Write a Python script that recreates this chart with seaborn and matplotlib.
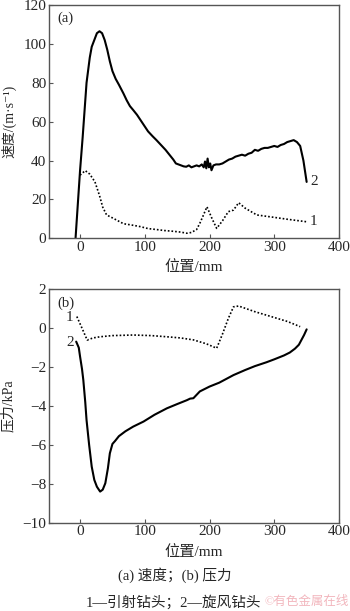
import matplotlib
matplotlib.use("Agg")
import matplotlib.pyplot as plt
import seaborn as sns
import pandas as pd

# ---- data: velocity (a) ----
vel_x1 = [0, 8, 15, 23, 30, 35, 41, 50, 67, 80, 93, 105, 118, 130, 144, 155, 165, 172, 180, 185, 190, 196, 204, 211, 220, 229, 237, 245, 255, 273, 299, 320, 350]
vel_y1 = [32.5, 34.8, 33.0, 29.0, 22.0, 16.0, 12.0, 10.5, 7.5, 6.8, 6.0, 5.0, 4.5, 4.0, 3.6, 3.2, 2.6, 3.0, 4.5, 7.7, 11.5, 16.2, 10.0, 5.1, 9.0, 13.7, 14.5, 18.3, 15.5, 12.0, 10.8, 9.8, 8.5]

vel_x2 = [-7, -2, 0, 4, 10, 15, 18, 22, 26, 30, 34, 38, 42, 46, 50, 55, 60, 67, 72, 77, 82, 88, 93, 98, 105, 112, 118, 125, 132, 138, 144, 148, 152, 156, 160, 164, 168, 172, 176, 180, 184, 188, 191, 193, 195, 197, 199, 201, 203, 206, 210, 215, 220, 225, 230, 235, 240, 245, 250, 255, 260, 265, 270, 275, 280, 285, 290, 295, 300, 305, 310, 315, 320, 325, 330, 335, 340, 345, 350]
vel_y2 = [0, 25, 35, 52, 80, 93, 98.5, 102, 105.5, 106.5, 105.5, 102, 97, 91, 86, 82, 79, 74.5, 71, 68, 66, 63.5, 61, 58.5, 55, 52.5, 50.5, 48, 45.5, 43, 40.5, 38.5, 38, 37.5, 37, 36.8, 37.5, 36.5, 37, 37.5, 37, 38, 36.5, 39.5, 36, 41, 36.5, 38.5, 35, 37.5, 38, 38, 38.5, 39.5, 40.5, 41, 42, 42.5, 43, 42.5, 43.5, 44, 45.5, 45, 46, 46.5, 46.5, 47, 47.5, 47, 48, 48.5, 49.5, 50, 50.5, 49.5, 47.5, 40, 29]

# ---- data: pressure (b) ----
pre_x1 = [-5, 3, 11, 20, 31, 50, 82, 110, 134, 155, 175, 195, 211, 220, 229, 237, 245, 270, 300, 320, 340]
pre_y1 = [0.6, 0.0, -0.61, -0.5, -0.44, -0.38, -0.35, -0.38, -0.44, -0.5, -0.6, -0.8, -1.03, -0.3, 0.5, 1.1, 1.14, 0.85, 0.55, 0.35, 0.08]

pre_x2 = [-6, -2, 0, 3, 5, 8, 10, 14, 18, 22, 26, 31, 35, 39, 43, 46, 50, 54, 60, 70, 82, 98, 115, 134, 150, 165, 170, 175, 185, 200, 215, 237, 255, 270, 288, 300, 315, 324, 332, 338, 342, 346, 350]
pre_y2 = [-0.69, -1.0, -1.46, -2.1, -2.66, -3.8, -4.72, -6.0, -7.12, -7.8, -8.15, -8.4, -8.3, -7.97, -7.2, -6.43, -5.95, -5.8, -5.55, -5.3, -5.06, -4.8, -4.45, -4.12, -3.9, -3.7, -3.62, -3.6, -3.25, -3.0, -2.8, -2.41, -2.15, -1.95, -1.75, -1.6, -1.4, -1.25, -1.05, -0.85, -0.6, -0.35, -0.06]

x_ticks = [0, 100, 200, 300, 400]
vel_ticks = [0, 20, 40, 60, 80, 100, 120]
pre_ticks = [-10, -8, -6, -4, -2, 0, 2]

sns.set_style("ticks")
FAM = ["Liberation Serif", "Noto Sans CJK SC", "DejaVu Sans"]
plt.rcParams["font.family"] = FAM
plt.rcParams["axes.unicode_minus"] = True
plt.rcParams["axes.edgecolor"] = "#555555"
plt.rcParams["axes.linewidth"] = 1.0

fig = plt.figure(figsize=(3.5, 6.11), dpi=100)
ax1 = fig.add_axes([0.14, 0.61, 0.8286, 0.3818])
ax2 = fig.add_axes([0.14, 0.1445, 0.8286, 0.382])

d1 = pd.DataFrame({"x": vel_x1, "y": vel_y1})
d2 = pd.DataFrame({"x": vel_x2, "y": vel_y2})
sns.lineplot(data=d1, x="x", y="y", ax=ax1, sort=False, color="black", lw=1.2, linestyle=(0, (1, 1.2)))
sns.lineplot(data=d2, x="x", y="y", ax=ax1, sort=False, color="black", lw=1.5)

p1 = pd.DataFrame({"x": pre_x1, "y": pre_y1})
p2 = pd.DataFrame({"x": pre_x2, "y": pre_y2})
sns.lineplot(data=p1, x="x", y="y", ax=ax2, sort=False, color="black", lw=1.2, linestyle=(0, (1, 1.2)))
sns.lineplot(data=p2, x="x", y="y", ax=ax2, sort=False, color="black", lw=1.5)

for ax in (ax1, ax2):
    ax.set_xlim(-48, 400)
    ax.set_xticks(x_ticks)
    ax.tick_params(direction="in", length=3, width=0.8, color="#555555", labelsize=11, pad=2)
    ax.set_xlabel("位置/mm", fontsize=11)
    ax.xaxis.set_label_coords(0.5, -0.095)

ax1.set_ylim(0, 120)
ax1.set_yticks(vel_ticks)
ax1.set_ylabel("速度/(m·s⁻¹)", fontsize=10, va="center")
ax2.set_ylim(-10, 2)
ax2.set_yticks(pre_ticks)
ax2.set_ylabel("压力/kPa", fontsize=10, va="center")
for ax in (ax1, ax2):
    ax.yaxis.set_label_coords(-0.14, 0.5)

ax1.text(0.03, 0.97, "(a)", transform=ax1.transAxes, ha="left", va="top", fontsize=10.5)
ax2.text(0.03, 0.97, "(b)", transform=ax2.transAxes, ha="left", va="top", fontsize=10.5)

ax1.text(355, 29, "2", ha="left", va="center", fontsize=11)
ax1.text(355, 8.5, "1", ha="left", va="center", fontsize=11)
ax2.text(-10, 0.55, "1", ha="right", va="center", fontsize=11)
ax2.text(-10, -0.75, "2", ha="right", va="center", fontsize=11)

fig.text(0.5, 0.059, "(a) 速度；(b) 压力", ha="center", va="center", fontsize=10.5)
fig.text(0.495, 0.0147, "1—引射钻头；2—旋风钻头", ha="center", va="center", fontsize=10.5)
fig.text(0.875, 0.0147, "©有色金属在线", ha="center", va="center", fontsize=9, color="#f2b6bd")

fig.savefig("out.png", dpi=100)
